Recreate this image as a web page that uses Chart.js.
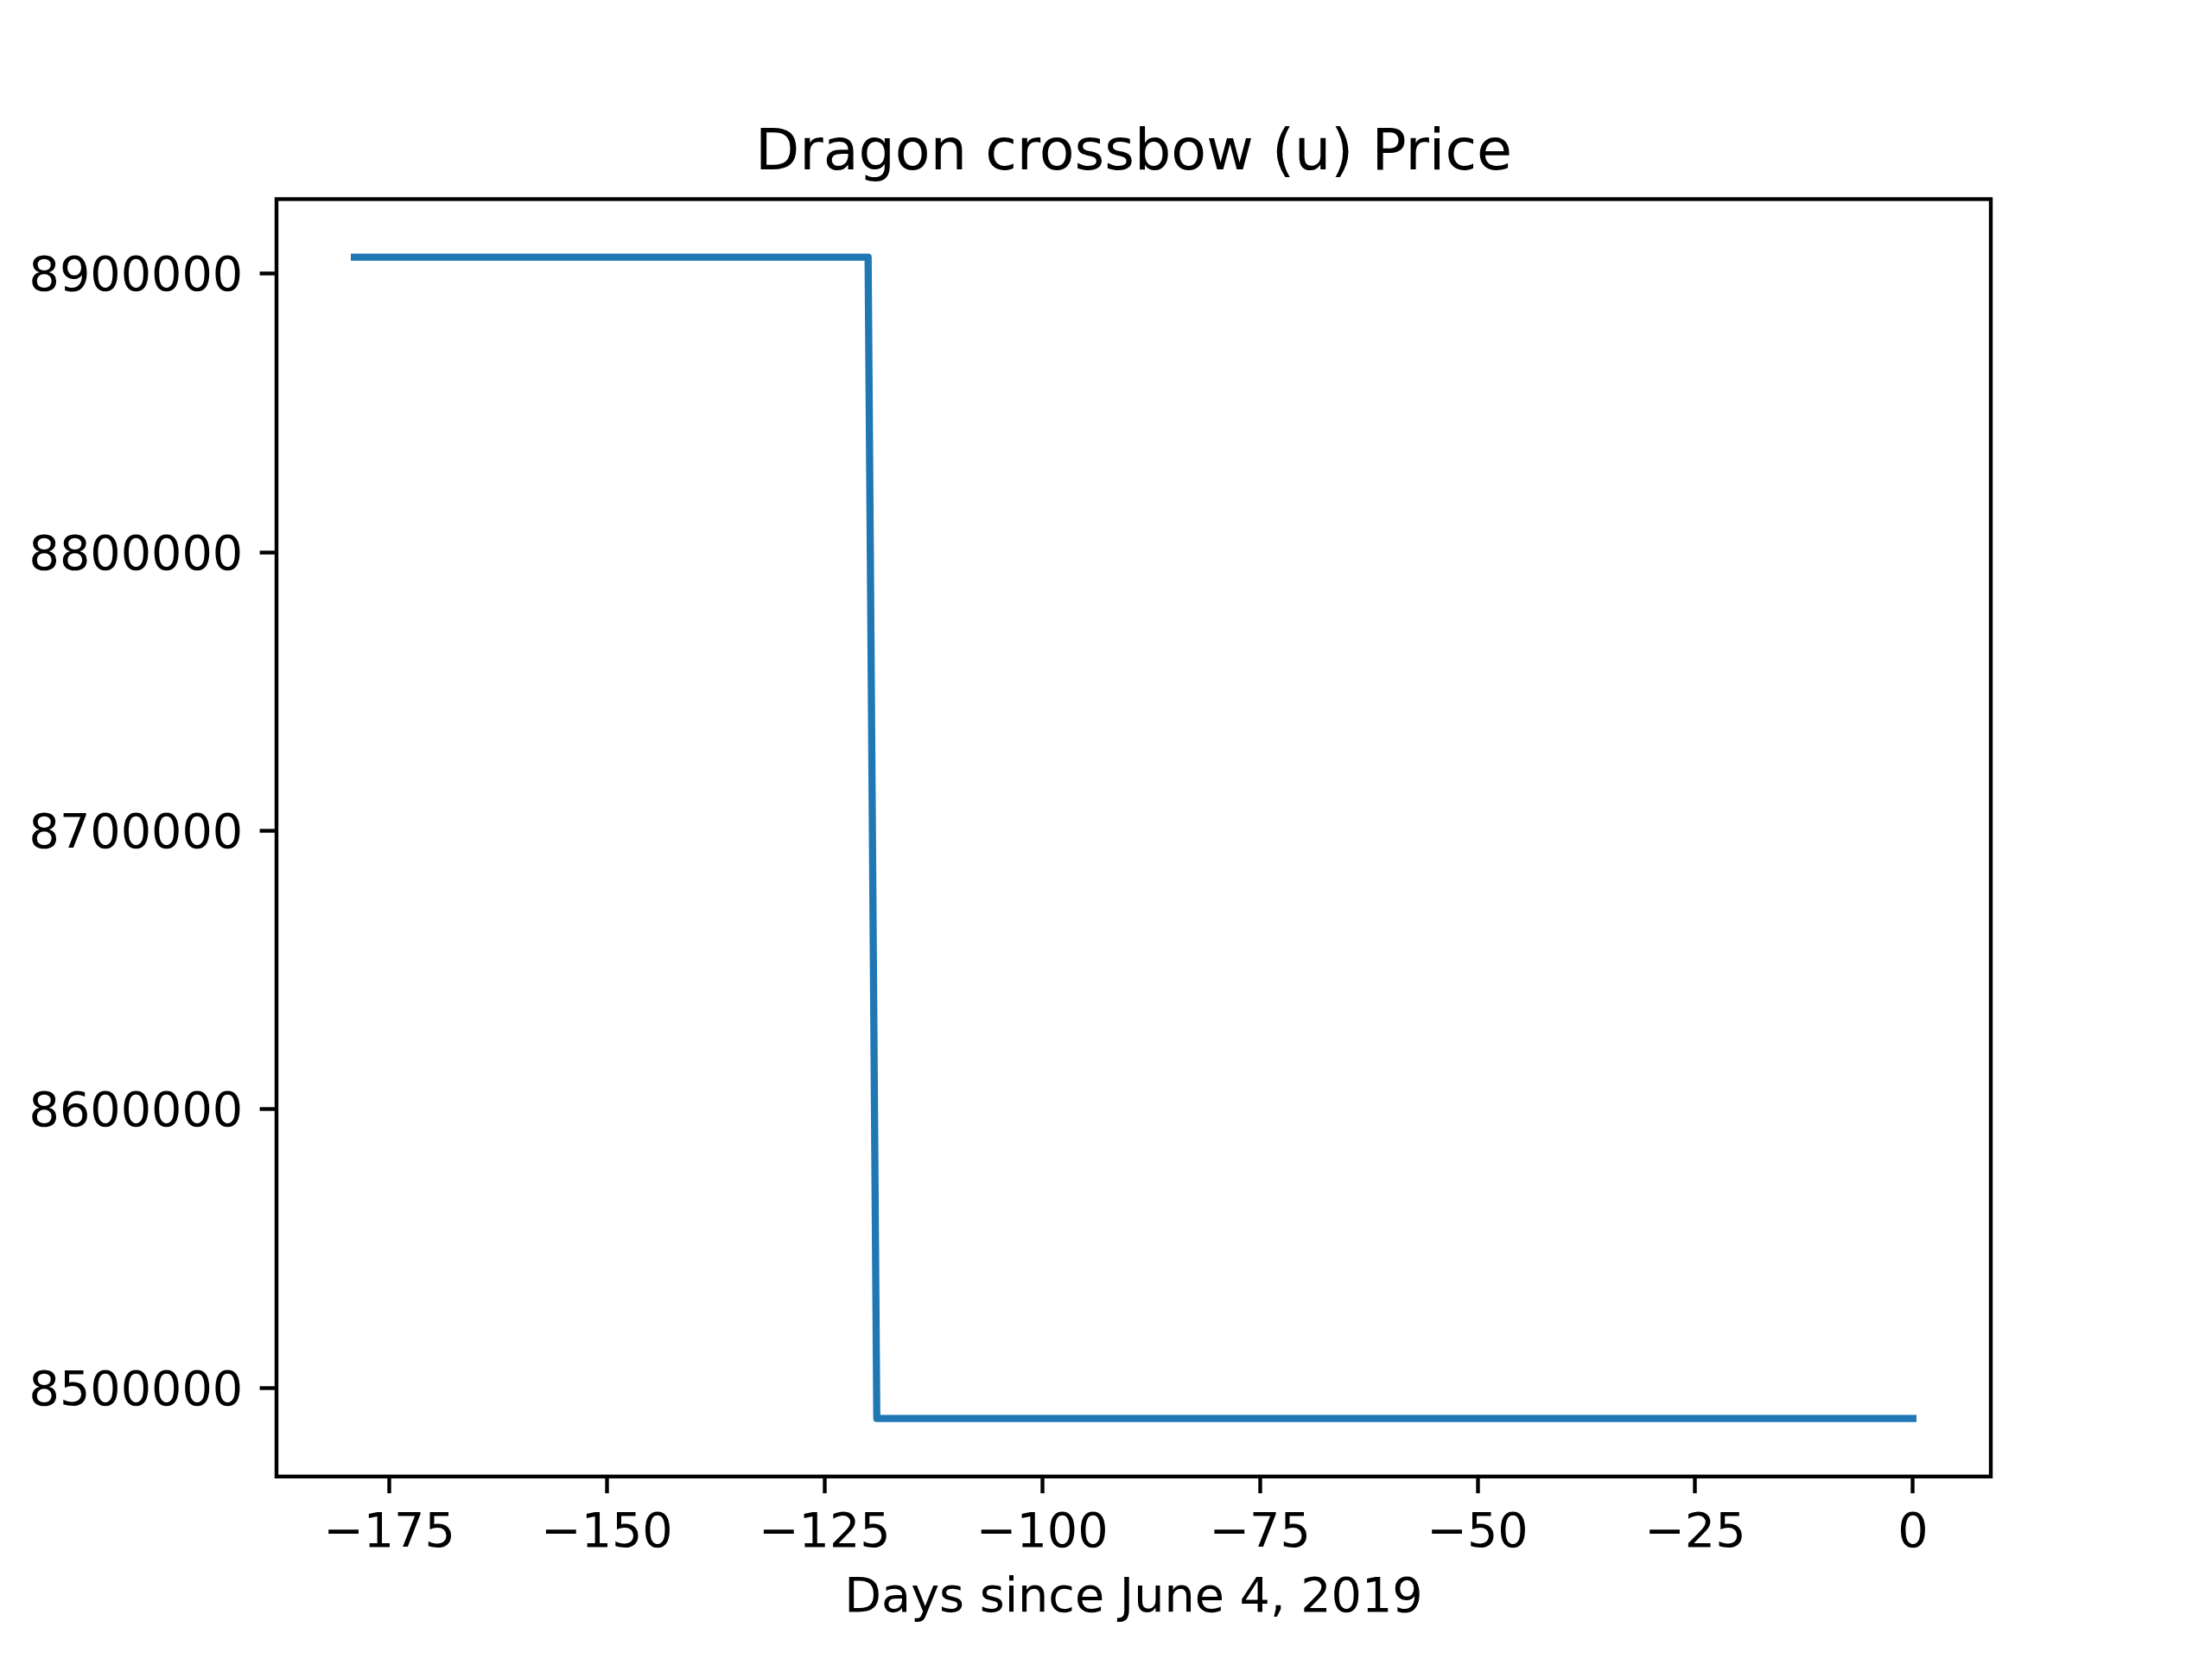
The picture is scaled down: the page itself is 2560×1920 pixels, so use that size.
<!DOCTYPE html>
<html>
<head>
<meta charset="utf-8">
<script src="https://cdn.jsdelivr.net/npm/chart.js@4.4.0/dist/chart.umd.min.js"></script>
<style>
  html, body { margin: 0; padding: 0; background: #ffffff; }
  #wrap { width: 2560px; height: 1920px; }
</style>
</head>
<body>
<div id="wrap"><canvas id="c" width="2560" height="1920"></canvas></div>
<script>
// ---- data ----
const days = [-179, -120, -119, 0];
const prices = [8906000, 8906000, 8489000, 8489000];
const xTicks = [-175, -150, -125, -100, -75, -50, -25, 0];
const yTicks = [8500000, 8600000, 8700000, 8800000, 8900000];
const titleText = 'Dragon crossbow (u) Price';
const xLabel = 'Days since June 4, 2019';

// ---- layout helpers (matplotlib-like 5% margins) ----
const xMinD = Math.min(...days), xMaxD = Math.max(...days);
const yMinD = Math.min(...prices), yMaxD = Math.max(...prices);
const xM = (xMaxD - xMinD) * 0.05, yM = (yMaxD - yMinD) * 0.05;

Chart.defaults.font.family = "'DejaVu Sans', sans-serif";
Chart.defaults.color = '#000000';

const framePlugin = {
  id: 'frame',
  afterDatasetsDraw(chart) {
    const a = chart.chartArea, ctx = chart.ctx;
    ctx.save();
    ctx.strokeStyle = '#000000';
    ctx.lineWidth = 4.4;
    ctx.lineJoin = 'miter';
    ctx.strokeRect(a.left, a.top, a.right - a.left, a.bottom - a.top);
    ctx.restore();
  }
};

const fmtX = v => (v < 0 ? '\u2212' + Math.abs(v) : String(v));

new Chart(document.getElementById('c'), {
  type: 'line',
  data: {
    datasets: [{
      data: days.map((d, i) => ({ x: d, y: prices[i] })),
      borderColor: '#1f77b4',
      borderWidth: 8.33,
      pointRadius: 0,
      fill: false,
      tension: 0,
      borderCapStyle: 'square',
      borderJoinStyle: 'round'
    }]
  },
  options: {
    responsive: false,
    devicePixelRatio: 1,
    animation: false,
    layout: { padding: { left: 0, right: 256, top: 0, bottom: 0 } },
    plugins: {
      legend: { display: false },
      tooltip: { enabled: false },
      title: {
        display: true,
        fullSize: false,
        text: titleText,
        color: '#000000',
        font: { family: "'DejaVu Sans', sans-serif", size: 66.7, weight: 'normal', lineHeight: 1.2 },
        padding: { top: 139, bottom: 11.4 }
      }
    },
    scales: {
      x: {
        type: 'linear',
        min: xMinD - xM,
        max: xMaxD + xM,
        afterBuildTicks: s => { s.ticks = xTicks.map(v => ({ value: v })); },
        afterFit: s => { s.height = 211.2; },
        ticks: {
          callback: v => fmtX(v),
          font: { size: 55.6 },
          color: '#000000',
          padding: 14,
          maxRotation: 0,
          autoSkip: false
        },
        grid: { drawOnChartArea: false, drawTicks: true, tickLength: 19.4, tickWidth: 4.4, tickColor: '#000000' },
        border: { display: false },
        title: {
          display: true,
          text: xLabel,
          color: '#000000',
          font: { size: 55.6, lineHeight: 1.2 },
          padding: { top: 0, bottom: 35.6 }
        }
      },
      y: {
        type: 'linear',
        min: yMinD - yM,
        max: yMaxD + yM,
        afterBuildTicks: s => { s.ticks = yTicks.map(v => ({ value: v })); },
        afterFit: s => { s.width = 320; },
        ticks: {
          callback: v => String(v),
          font: { size: 55.6 },
          color: '#000000',
          padding: 19.4,
          labelOffset: 5,
          autoSkip: false
        },
        grid: { drawOnChartArea: false, drawTicks: true, tickLength: 19.4, tickWidth: 4.4, tickColor: '#000000' },
        border: { display: false }
      }
    }
  },
  plugins: [framePlugin]
});
</script>
</body>
</html>
